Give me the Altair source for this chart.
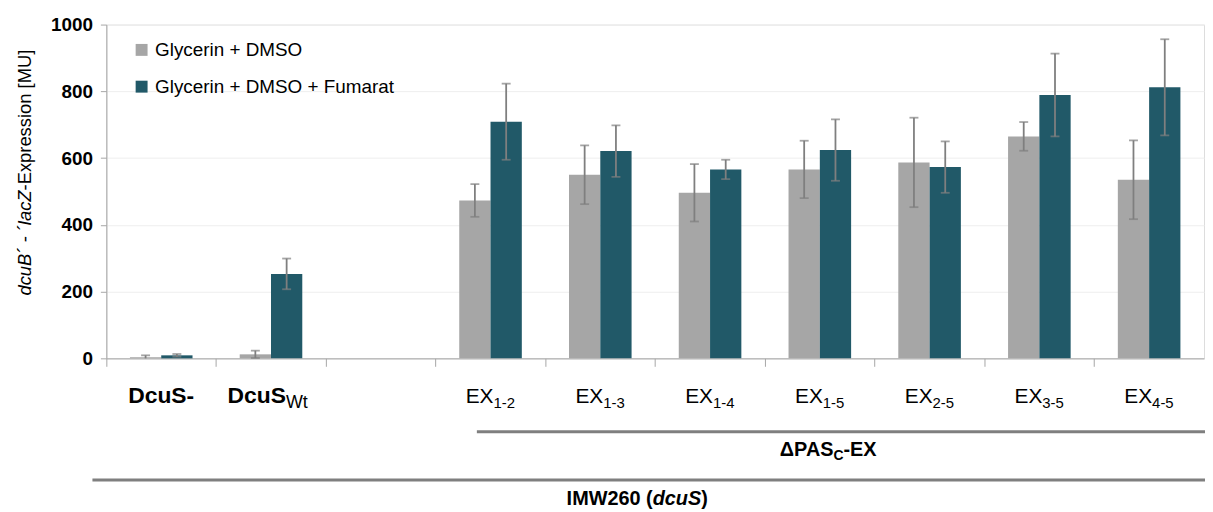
import altair as alt
import pandas as pd

# ---------------- data ----------------
categories = ["DcuS-", "DcuSWt", "-", "EX1-2", "EX1-3", "EX1-4", "EX1-5", "EX2-5", "EX3-5", "EX4-5"]
series = ["Glycerin + DMSO", "Glycerin + DMSO + Fumarat"]
dmso = [3, 12, None, 473, 550, 496, 566, 587, 665, 535]
dmso_err = [6, 11, None, 49, 88, 86, 86, 134, 43, 118]
fum = [9, 253, None, 709, 621, 566, 624, 573, 789, 812]
fum_err = [4, 46, None, 114, 77, 29, 92, 77, 124, 144]

ex_cats = ["EX1-2", "EX1-3", "EX1-4", "EX1-5", "EX2-5", "EX3-5", "EX4-5"]
ex_subs = ["1-2", "1-3", "1-4", "1-5", "2-5", "3-5", "4-5"]
y_ticks = [0, 200, 400, 600, 800, 1000]

FONT = "Liberation Sans"
GRAY = "#A6A6A6"
TEAL = "#215968"
ERR = "#7F7F7F"

rows = []
for i, c in enumerate(categories):
    for s, vals, errs in ((series[0], dmso, dmso_err), (series[1], fum, fum_err)):
        v = vals[i]
        if v is None:
            continue
        e = errs[i]
        rows.append({"cat": c, "series": s, "value": v, "lo": max(0, v - e), "hi": v + e})
df = pd.DataFrame(rows)

x_enc = alt.X(
    "cat:N",
    sort=categories,
    scale=alt.Scale(domain=categories, paddingInner=0, paddingOuter=0),
    axis=alt.Axis(labels=False, title=None, bandPosition=0, tickSize=8,
                  tickColor="#A6A6A6", domainColor="#A6A6A6", grid=False),
)
xo_enc = alt.XOffset("series:N", sort=series,
                     scale=alt.Scale(domain=series, paddingOuter=0.754, paddingInner=0))
y_scale = alt.Scale(domain=[0, 1000])

bars = alt.Chart(df).mark_bar().encode(
    x=x_enc,
    xOffset=xo_enc,
    y=alt.Y("value:Q", scale=y_scale,
            axis=alt.Axis(values=y_ticks, format="d", title=None, grid=True, gridColor="#EEEEEE",
                          labelFont=FONT, labelFontSize=19, labelFontWeight="bold",
                          labelColor="black", labelPadding=8, tickSize=6,
                          tickColor="#A6A6A6", domainColor="#A6A6A6")),
    color=alt.Color("series:N", sort=series,
                    scale=alt.Scale(domain=series, range=[GRAY, TEAL]),
                    legend=alt.Legend(title=None, orient="none", legendX=26, legendY=16,
                                      symbolType="square", symbolSize=144,
                                      symbolStrokeWidth=0, labelFont=FONT,
                                      labelFontSize=19, labelColor="black", labelLimit=0,
                                      rowPadding=17, labelOffset=4, padding=0)),
)

err_rule = alt.Chart(df).mark_rule(color=ERR, strokeWidth=1.8).encode(
    x=x_enc, xOffset=xo_enc, y=alt.Y("lo:Q", scale=y_scale), y2="hi:Q"
)
err_top = alt.Chart(df).mark_tick(color=ERR, thickness=1.8, size=9).encode(
    x=x_enc, xOffset=xo_enc, y=alt.Y("hi:Q", scale=y_scale)
)
err_bot = alt.Chart(df[df["lo"] > 0]).mark_tick(color=ERR, thickness=1.8, size=9).encode(
    x=x_enc, xOffset=xo_enc, y=alt.Y("lo:Q", scale=y_scale)
)

# ---------------- category labels (with subscripts) ----------------
bold_lab = dict(font=FONT, fontSize=23, fontWeight="bold", color="black", baseline="alphabetic")
ex_lab = dict(font=FONT, fontSize=21, color="black", baseline="alphabetic")
sub_lab = dict(font=FONT, fontSize=15, color="black", baseline="alphabetic")

lab_dcus_minus = alt.Chart(pd.DataFrame({"cat": ["DcuS-"], "t": ["DcuS-"]})).mark_text(
    align="center", **bold_lab).encode(x=x_enc, y=alt.value(381), text="t:N")
lab_dcus = alt.Chart(pd.DataFrame({"cat": ["DcuSWt"], "t": ["DcuS"]})).mark_text(
    align="right", dx=15, **bold_lab).encode(x=x_enc, y=alt.value(381), text="t:N")
lab_wt = alt.Chart(pd.DataFrame({"cat": ["DcuSWt"], "t": ["Wt"]})).mark_text(
    align="left", dx=15, font=FONT, fontSize=18, color="black", baseline="alphabetic").encode(
    x=x_enc, y=alt.value(386), text="t:N")
lab_ex = alt.Chart(pd.DataFrame({"cat": ex_cats, "t": ["EX"] * len(ex_cats)})).mark_text(
    align="right", dx=3, **ex_lab).encode(x=x_enc, y=alt.value(381), text="t:N")
lab_exsub = alt.Chart(pd.DataFrame({"cat": ex_cats, "t": ex_subs})).mark_text(
    align="left", dx=3, **sub_lab).encode(x=x_enc, y=alt.value(386), text="t:N")

# ---------------- group brackets ----------------
line_upper = alt.Chart(pd.DataFrame({"a": [0]})).mark_rule(color="#7F7F7F", strokeWidth=3).encode(
    x=alt.value(373), x2=alt.value(1106), y=alt.value(410))
line_lower = alt.Chart(pd.DataFrame({"a": [0]})).mark_rule(color="#7F7F7F", strokeWidth=3).encode(
    x=alt.value(-14), x2=alt.value(1106), y=alt.value(458.5))

grp_base = dict(font=FONT, fontWeight="bold", color="black", baseline="alphabetic")
pas1 = alt.Chart(pd.DataFrame({"t": ["\u0394PAS"]})).mark_text(align="right", fontSize=20, **grp_base).encode(
    text="t:N", x=alt.value(732), y=alt.value(434))
pas2 = alt.Chart(pd.DataFrame({"t": ["C"]})).mark_text(align="left", fontSize=14, **grp_base).encode(
    text="t:N", x=alt.value(732), y=alt.value(438))
pas3 = alt.Chart(pd.DataFrame({"t": ["-EX"]})).mark_text(align="left", fontSize=20, **grp_base).encode(
    text="t:N", x=alt.value(742), y=alt.value(434))

imw1 = alt.Chart(pd.DataFrame({"t": ["IMW260 ("]})).mark_text(align="right", fontSize=20, **grp_base).encode(
    text="t:N", x=alt.value(550), y=alt.value(484))
imw2 = alt.Chart(pd.DataFrame({"t": ["dcuS"]})).mark_text(align="left", fontSize=20, fontStyle="italic", **grp_base).encode(
    text="t:N", x=alt.value(550), y=alt.value(484))
imw3 = alt.Chart(pd.DataFrame({"t": [")"]})).mark_text(align="left", fontSize=20, **grp_base).encode(
    text="t:N", x=alt.value(599), y=alt.value(484))

# ---------------- y-axis title (mixed italic) ----------------
yt1 = alt.Chart(pd.DataFrame({"t": ["dcuB\u00b4 - \u00b4lacZ"]})).mark_text(
    angle=270, align="right", baseline="middle", font=FONT, fontSize=18.5,
    fontStyle="italic", color="black").encode(text="t:N", x=alt.value(-82), y=alt.value(167))
yt2 = alt.Chart(pd.DataFrame({"t": ["-Expression [MU]"]})).mark_text(
    angle=270, align="left", baseline="middle", font=FONT, fontSize=18.5,
    color="black").encode(text="t:N", x=alt.value(-82), y=alt.value(167))

chart = alt.layer(
    bars, err_rule, err_top, err_bot,
    lab_dcus_minus, lab_dcus, lab_wt, lab_ex, lab_exsub,
    line_upper, line_lower, pas1, pas2, pas3, imw1, imw2, imw3, yt1, yt2,
).properties(
    width=1105, height=336,
    autosize=alt.AutoSizeParams(type="none"),
    padding={"left": 99, "top": 15, "right": 1, "bottom": 153},
).configure_view(stroke=None).configure(background="white")

chart.save("out.html", embed_options={"renderer": "svg", "actions": False})
